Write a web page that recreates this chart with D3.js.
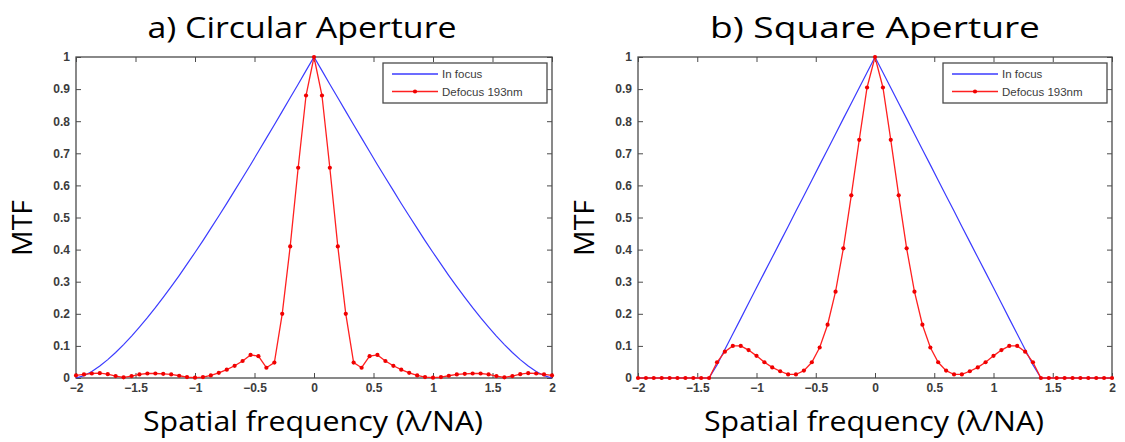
<!DOCTYPE html>
<html>
<head>
<meta charset="utf-8">
<script src="https://cdn.jsdelivr.net/npm/d3@7"></script>
<style>
  html, body { margin: 0; padding: 0; background: #ffffff; }
  svg { display: block; }
</style>
</head>
<body>
<svg id="chart" width="1125" height="442"></svg>
<script>
// ---------------- data ----------------
const xTickValues = [-2, -1.5, -1, -0.5, 0, 0.5, 1, 1.5, 2];
const yTickValues = [0, 0.1, 0.2, 0.3, 0.4, 0.5, 0.6, 0.7, 0.8, 0.9, 1];

const titles = ["a) Circular Aperture", "b) Square Aperture"];
const seriesNames = ["In focus", "Defocus 193nm"];
const xAxisTitle = "Spatial frequency (\u03BB/NA)";
const yAxisTitle = "MTF";

const freq = [
  -2, -1.933, -1.867, -1.8, -1.733, -1.667, -1.6, -1.533, -1.467, -1.4,
  -1.333, -1.267, -1.2, -1.133, -1.067, -1, -0.933, -0.867, -0.8, -0.733,
  -0.667, -0.6, -0.533, -0.467, -0.4, -0.333, -0.267, -0.2, -0.133, -0.067,
  0,
  0.067, 0.133, 0.2, 0.267, 0.333, 0.4, 0.467, 0.533, 0.6, 0.667,
  0.733, 0.8, 0.867, 0.933, 1, 1.067, 1.133, 1.2, 1.267, 1.333,
  1.4, 1.467, 1.533, 1.6, 1.667, 1.733, 1.8, 1.867, 1.933, 2
];

const circInFocus = [
  0, 0.0073, 0.0205, 0.0374, 0.0573, 0.0796, 0.1041, 0.1305, 0.1585, 0.1881,
  0.2191, 0.2513, 0.2848, 0.3192, 0.3547, 0.3910, 0.4281, 0.4661, 0.5046, 0.5438,
  0.5836, 0.6238, 0.6645, 0.7056, 0.7471, 0.7888, 0.8307, 0.8729, 0.9152, 0.9576,
  1,
  0.9576, 0.9152, 0.8729, 0.8307, 0.7888, 0.7471, 0.7056, 0.6645, 0.6238, 0.5836,
  0.5438, 0.5046, 0.4661, 0.4281, 0.3910, 0.3547, 0.3192, 0.2848, 0.2513, 0.2191,
  0.1881, 0.1585, 0.1305, 0.1041, 0.0796, 0.0573, 0.0374, 0.0205, 0.0073, 0
];

const circDefocus = [
  0.008, 0.011, 0.014, 0.015, 0.012, 0.006, 0.002, 0.006, 0.011, 0.014,
  0.014, 0.013, 0.011, 0.007, 0.003, 0.001, 0.003, 0.008, 0.016, 0.026,
  0.038, 0.053, 0.072, 0.068, 0.032, 0.048, 0.20, 0.41, 0.655, 0.88,
  1.0,
  0.88, 0.655, 0.41, 0.20, 0.048, 0.032, 0.068, 0.072, 0.053, 0.038,
  0.026, 0.016, 0.008, 0.003, 0.001, 0.003, 0.007, 0.011, 0.013, 0.014,
  0.014, 0.011, 0.006, 0.002, 0.006, 0.012, 0.015, 0.014, 0.011, 0.008
];

const squareInFocus = [
  0, 0, 0, 0, 0, 0, 0, 0, 0, 0,
  0.041, 0.089, 0.137, 0.185, 0.233, 0.281, 0.329, 0.376, 0.424, 0.472,
  0.520, 0.568, 0.616, 0.664, 0.712, 0.760, 0.808, 0.856, 0.904, 0.952,
  1,
  0.952, 0.904, 0.856, 0.808, 0.760, 0.712, 0.664, 0.616, 0.568, 0.520,
  0.472, 0.424, 0.376, 0.329, 0.281, 0.233, 0.185, 0.137, 0.089, 0.041,
  0, 0, 0, 0, 0, 0, 0, 0, 0, 0
];

const squareDefocus = [
  0, 0, 0, 0, 0, 0, 0, 0, 0, 0,
  0.049, 0.082, 0.100, 0.100, 0.087, 0.069, 0.049, 0.033, 0.021, 0.011,
  0.011, 0.023, 0.049, 0.095, 0.166, 0.269, 0.404, 0.569, 0.742, 0.905,
  1,
  0.905, 0.742, 0.569, 0.404, 0.269, 0.166, 0.095, 0.049, 0.023, 0.011,
  0.011, 0.021, 0.033, 0.049, 0.069, 0.087, 0.100, 0.100, 0.082, 0.049,
  0, 0, 0, 0, 0, 0, 0, 0, 0, 0
];

// ---------------- drawing ----------------
const svg = d3.select("#chart");
const BLUE = "#3b3bff";
const RED = "#ff2020";
const AXIS = "#4a4a4a";
const TICKTXT = "#3c3c3c";

function drawPanel(p) {
  const x = d3.scaleLinear().domain([-2, 2]).range([p.left, p.right]);
  const y = d3.scaleLinear().domain([0, 1]).range([p.bottom, p.top]);
  const g = svg.append("g");

  // white plot area
  g.append("rect")
    .attr("x", p.left).attr("y", p.top)
    .attr("width", p.right - p.left).attr("height", p.bottom - p.top)
    .attr("fill", "#fff");

  // axes (inside ticks on all four sides)
  const styleAxis = (sel, labels) => {
    sel.select(".domain").remove();
    sel.selectAll(".tick line").attr("stroke", AXIS).attr("stroke-width", 1);
    sel.selectAll(".tick text")
      .attr("fill", TICKTXT)
      .style("font-family", "'Liberation Sans', Arial, sans-serif")
      .style("font-size", "12px")
      .style("font-weight", "bold")
      .attr("opacity", labels ? 1 : 0);
  };
  g.append("g").attr("transform", `translate(0,${p.bottom})`)
    .call(d3.axisBottom(x).tickValues(xTickValues).tickSize(-5).tickPadding(5).tickFormat(d3.format("")))
    .call(s => styleAxis(s, true));
  g.append("g").attr("transform", `translate(0,${p.top})`)
    .call(d3.axisTop(x).tickValues(xTickValues).tickSize(-5).tickFormat(""))
    .call(s => styleAxis(s, false));
  g.append("g").attr("transform", `translate(${p.left},0)`)
    .call(d3.axisLeft(y).tickValues(yTickValues).tickSize(-5).tickPadding(6).tickFormat(d3.format("")))
    .call(s => styleAxis(s, true));
  g.append("g").attr("transform", `translate(${p.right},0)`)
    .call(d3.axisRight(y).tickValues(yTickValues).tickSize(-5).tickFormat(""))
    .call(s => styleAxis(s, false));

  // frame
  g.append("rect")
    .attr("x", p.left).attr("y", p.top)
    .attr("width", p.right - p.left).attr("height", p.bottom - p.top)
    .attr("fill", "none").attr("stroke", AXIS).attr("stroke-width", 1.3);

  const line = d3.line().x((d, i) => x(freq[i])).y(d => y(d));

  g.append("path").datum(p.inFocus)
    .attr("d", line).attr("fill", "none")
    .attr("stroke", BLUE).attr("stroke-width", 1.2);

  g.append("path").datum(p.defocus)
    .attr("d", line).attr("fill", "none")
    .attr("stroke", RED).attr("stroke-width", 1.3);

  g.selectAll("circle.pt").data(p.defocus).enter().append("circle")
    .attr("class", "pt")
    .attr("cx", (d, i) => x(freq[i])).attr("cy", d => y(d))
    .attr("r", 2.1).attr("fill", "#f00000");

  // legend
  const lx = p.right - 169, ly = p.top + 6, lw = 164, lh = 40;
  const lg = g.append("g");
  lg.append("rect").attr("x", lx).attr("y", ly).attr("width", lw).attr("height", lh)
    .attr("fill", "#fff").attr("stroke", AXIS).attr("stroke-width", 1.3);
  const rows = [
    { name: seriesNames[0], color: BLUE, marker: false },
    { name: seriesNames[1], color: RED, marker: true }
  ];
  rows.forEach((r, i) => {
    const yy = ly + 11 + i * 17.5;
    lg.append("line").attr("x1", lx + 9).attr("x2", lx + 55).attr("y1", yy).attr("y2", yy)
      .attr("stroke", r.color).attr("stroke-width", 1.3);
    if (r.marker) {
      lg.append("circle").attr("cx", lx + 32).attr("cy", yy).attr("r", 2.1).attr("fill", "#f00000");
    }
    lg.append("text").attr("x", lx + 59).attr("y", yy + 4)
      .text(r.name)
      .attr("fill", TICKTXT)
      .style("font-family", "'Liberation Sans', Arial, sans-serif")
      .style("font-size", "11.5px");
  });

  // titles
  const mid = (p.left + p.right) / 2;
  svg.append("text").attr("x", p.titleX).attr("y", 38)
    .attr("text-anchor", "middle")
    .attr("textLength", p.titleLen).attr("lengthAdjust", "spacingAndGlyphs")
    .style("font-family", "'Open Sans', sans-serif").style("font-size", "30px")
    .attr("fill", "#000").text(p.title);

  svg.append("text").attr("x", mid - 1).attr("y", 431)
    .attr("text-anchor", "middle")
    .attr("textLength", 340).attr("lengthAdjust", "spacingAndGlyphs")
    .style("font-family", "'Open Sans', sans-serif").style("font-size", "27px")
    .attr("fill", "#000").text(xAxisTitle);

  svg.append("text")
    .attr("transform", `translate(${p.left - 44},${228}) rotate(-90)`)
    .attr("text-anchor", "middle")
    .attr("textLength", 56).attr("lengthAdjust", "spacingAndGlyphs")
    .style("font-family", "'Open Sans', sans-serif").style("font-size", "27px")
    .attr("fill", "#000").text(yAxisTitle);
}

drawPanel({
  left: 76, right: 552, top: 57, bottom: 378,
  inFocus: circInFocus, defocus: circDefocus,
  title: titles[0], titleX: 302, titleLen: 309
});
drawPanel({
  left: 638, right: 1112, top: 57, bottom: 378,
  inFocus: squareInFocus, defocus: squareDefocus,
  title: titles[1], titleX: 875, titleLen: 330
});
</script>
</body>
</html>
